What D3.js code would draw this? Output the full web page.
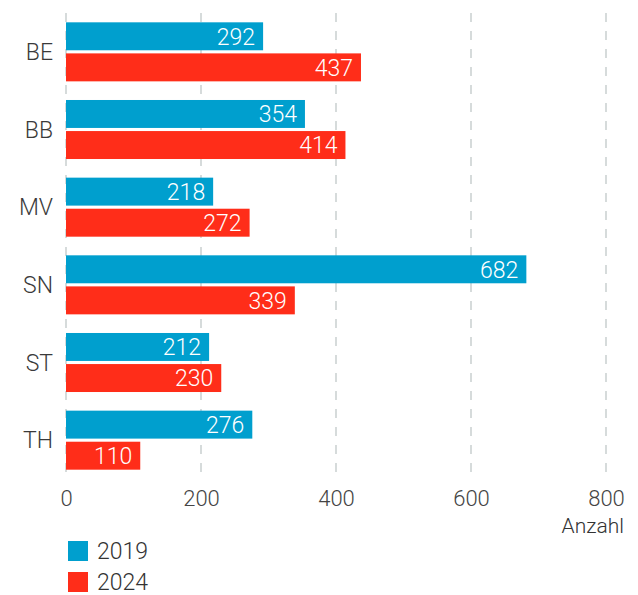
<!DOCTYPE html>
<html>
<head>
<meta charset="utf-8">
<script src="https://cdn.jsdelivr.net/npm/d3@7"></script>
<style>
  body { margin: 0; background: #fff; }
  svg text { font-family: Roboto, "Liberation Sans", sans-serif; font-weight: 300; }
</style>
</head>
<body>
<div id="chart"></div>
<script>
const WIDTH = 638;
const HEIGHT = 595;

const categories = ["BE", "BB", "MV", "SN", "ST", "TH"];
const years = ["2019", "2024"];
const values2019 = [292, 354, 218, 682, 212, 276];
const values2024 = [437, 414, 272, 339, 230, 110];
const xTicks = [0, 200, 400, 600, 800];
const colors = ["#009fce", "#ff2d19"];

const rows = categories.map((c, i) => ({cat: c, vals: [values2019[i], values2024[i]]}));

const svg = d3.select("#chart")
  .append("svg")
  .attr("width", WIDTH)
  .attr("height", HEIGHT);

const x = d3.scaleLinear().domain([0, 800]).range([66, 606]);

const y = d3.scaleBand()
  .domain(categories)
  .range([13, 479])
  .paddingInner(0.24)
  .paddingOuter(0.12);

const yInner = d3.scaleBand()
  .domain(years)
  .range([0, y.bandwidth()])
  .paddingInner(0.1);

// dashed gridlines
svg.append("g")
  .selectAll("line")
  .data(xTicks)
  .enter()
  .append("line")
  .attr("x1", d => x(d))
  .attr("x2", d => x(d))
  .attr("y1", 13)
  .attr("y2", 479)
  .style("stroke", "#c9d0d0")
  .style("stroke-width", 1.5)
  .style("stroke-dasharray", "9,9");

// x axis tick labels
const xAxis = svg.append("g")
  .attr("transform", "translate(0,486)")
  .call(d3.axisBottom(x).tickValues(xTicks).tickSize(0).tickPadding(0));
xAxis.select(".domain").remove();
xAxis.selectAll("text")
  .attr("dy", "0")
  .attr("y", 20)
  .style("font-size", "22px")
  .style("fill", "#444");

svg.append("text")
  .attr("x", 624)
  .attr("y", 533)
  .attr("text-anchor", "end")
  .style("font-size", "21px")
  .style("fill", "#333")
  .text("Anzahl");

// category labels
svg.append("g")
  .selectAll("text")
  .data(categories)
  .enter()
  .append("text")
  .attr("x", 53)
  .attr("y", d => y(d) + y.bandwidth() / 2)
  .attr("dy", "0.36em")
  .attr("text-anchor", "end")
  .style("font-size", "23px")
  .style("fill", "#3a3a3a")
  .text(d => d);

// bars
const group = svg.append("g")
  .selectAll("g")
  .data(rows)
  .enter()
  .append("g")
  .attr("transform", d => `translate(0,${y(d.cat)})`);

const bar = group.selectAll("g")
  .data(d => d.vals.map((v, i) => ({year: years[i], value: v, i: i})))
  .enter()
  .append("g");

bar.append("rect")
  .attr("x", x(0))
  .attr("y", d => yInner(d.year))
  .attr("width", d => x(d.value) - x(0))
  .attr("height", yInner.bandwidth())
  .style("fill", d => colors[d.i]);

bar.append("text")
  .attr("x", d => x(d.value) - 8)
  .attr("y", d => yInner(d.year) + yInner.bandwidth() / 2)
  .attr("dy", "0.36em")
  .attr("text-anchor", "end")
  .style("font-size", "23px")
  .style("fill", "#fff")
  .text(d => d.value);

// legend
const legend = svg.append("g")
  .selectAll("g")
  .data(years)
  .enter()
  .append("g")
  .attr("transform", (d, i) => `translate(68,${541 + i * 31})`);

legend.append("rect")
  .attr("width", 20)
  .attr("height", 20)
  .style("fill", (d, i) => colors[i]);

legend.append("text")
  .attr("x", 29)
  .attr("y", 10)
  .attr("dy", "0.36em")
  .style("font-size", "23px")
  .style("fill", "#333")
  .text(d => d);
</script>
</body>
</html>
